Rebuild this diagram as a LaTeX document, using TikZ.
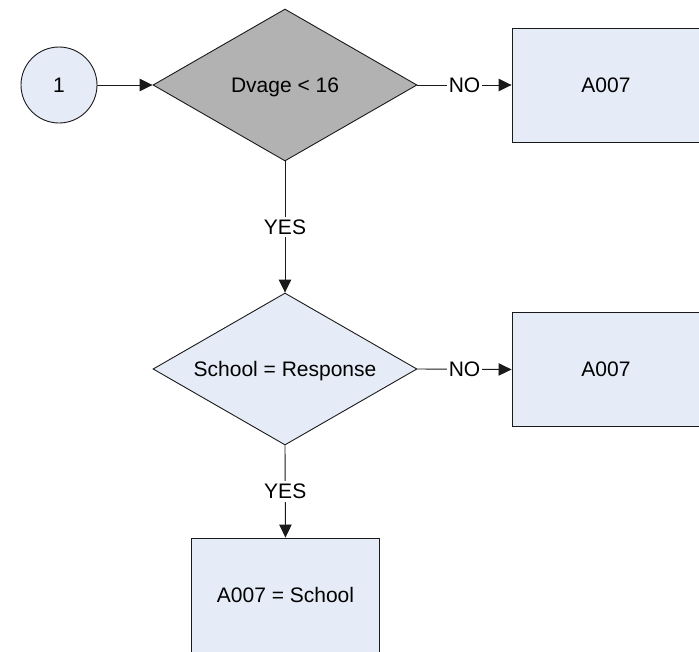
\documentclass[tikz,border=0pt]{standalone}
\usepackage{fontspec}
\setmainfont{Liberation Sans}
\usetikzlibrary{shapes.geometric,arrows.meta}
\definecolor{boxfill}{HTML}{E6ECF7}
\definecolor{decgray}{HTML}{B2B2B2}
\definecolor{edge}{HTML}{1A1A1A}
\begin{document}
\begin{tikzpicture}[x=1pt,y=-1pt,
  every node/.style={font=\fontsize{21}{24}\selectfont,text depth=0pt},
  startnode/.style={circle,draw=edge,fill=boxfill,line width=0.9pt,minimum size=76pt,inner sep=0pt},
  decision/.style={diamond,draw=edge,line width=0.9pt,shape aspect=1.737,minimum width=264pt,minimum height=152pt,inner sep=0pt},
  procbox/.style={rectangle,draw=edge,fill=boxfill,line width=0.9pt,minimum width=188pt,minimum height=114pt,inner sep=0pt},
  conn/.style={draw=edge,line width=0.9pt,-{Triangle[length=13pt,width=12.5pt]}},
  elabel/.style={fill=white,inner xsep=1.5pt,inner ysep=3pt}]
\useasboundingbox (0,0) rectangle (699,651);
\clip (0,0) rectangle (699,651);
\node[startnode] (c1) at (59,85) {1};
\node[decision,fill=decgray] (d1) at (285,85) {Dvage < 16};
\node[procbox] (b1) at (606,85) {A007};
\node[decision,fill=boxfill] (d2) at (285,369) {School = Response};
\node[procbox] (b2) at (606,369.5) {A007};
\node[procbox] (b3) at (285.5,595) {A007 = School};
\draw[conn] (c1.east) -- (d1.west);
\draw[conn] (d1.east) -- node[elabel] {NO} (b1.west);
\draw[conn] (d1.south) -- node[elabel] {YES} (d2.north);
\draw[conn] (d2.east) -- node[elabel] {NO} (b2.west);
\draw[conn] (d2.south) -- node[elabel] {YES} (b3.north);
\end{tikzpicture}
\end{document}
